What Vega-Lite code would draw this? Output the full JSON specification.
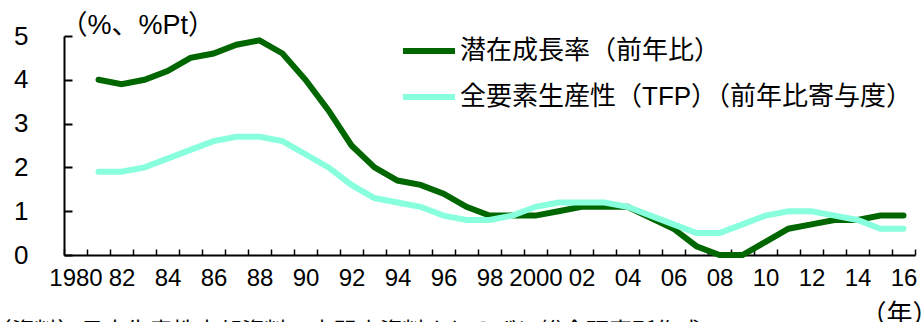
{
  "$schema": "https://vega.github.io/schema/vega-lite/v6.json",
  "width": 851,
  "height": 219,
  "autosize": {"type": "none"},
  "padding": {"left": 64, "top": 36, "right": 6, "bottom": 67},
  "background": "white",
  "config": {
    "view": {"stroke": null},
    "font": "Liberation Sans, Noto Sans CJK JP"
  },
  "title": {
    "text": "（資料）日本生産性本部資料、内閣府資料よりみずほ総合研究所作成",
    "orient": "bottom",
    "anchor": "start",
    "font": "Liberation Sans, Noto Sans CJK JP",
    "fontSize": 23,
    "fontWeight": "normal",
    "color": "black",
    "dx": -25,
    "dy": -10,
    "offset": 4
  },
  "data": {
    "values": [
      {"year": 1981, "series": "潜在成長率（前年比）", "value": 4.0},
      {"year": 1982, "series": "潜在成長率（前年比）", "value": 3.9},
      {"year": 1983, "series": "潜在成長率（前年比）", "value": 4.0},
      {"year": 1984, "series": "潜在成長率（前年比）", "value": 4.2},
      {"year": 1985, "series": "潜在成長率（前年比）", "value": 4.5},
      {"year": 1986, "series": "潜在成長率（前年比）", "value": 4.6},
      {"year": 1987, "series": "潜在成長率（前年比）", "value": 4.8},
      {"year": 1988, "series": "潜在成長率（前年比）", "value": 4.9},
      {"year": 1989, "series": "潜在成長率（前年比）", "value": 4.6},
      {"year": 1990, "series": "潜在成長率（前年比）", "value": 4.0},
      {"year": 1991, "series": "潜在成長率（前年比）", "value": 3.3},
      {"year": 1992, "series": "潜在成長率（前年比）", "value": 2.5},
      {"year": 1993, "series": "潜在成長率（前年比）", "value": 2.0},
      {"year": 1994, "series": "潜在成長率（前年比）", "value": 1.7},
      {"year": 1995, "series": "潜在成長率（前年比）", "value": 1.6},
      {"year": 1996, "series": "潜在成長率（前年比）", "value": 1.4},
      {"year": 1997, "series": "潜在成長率（前年比）", "value": 1.1},
      {"year": 1998, "series": "潜在成長率（前年比）", "value": 0.9},
      {"year": 1999, "series": "潜在成長率（前年比）", "value": 0.9},
      {"year": 2000, "series": "潜在成長率（前年比）", "value": 0.9},
      {"year": 2001, "series": "潜在成長率（前年比）", "value": 1.0},
      {"year": 2002, "series": "潜在成長率（前年比）", "value": 1.1},
      {"year": 2003, "series": "潜在成長率（前年比）", "value": 1.1},
      {"year": 2004, "series": "潜在成長率（前年比）", "value": 1.1},
      {"year": 2005, "series": "潜在成長率（前年比）", "value": 0.85},
      {"year": 2006, "series": "潜在成長率（前年比）", "value": 0.6},
      {"year": 2007, "series": "潜在成長率（前年比）", "value": 0.2},
      {"year": 2008, "series": "潜在成長率（前年比）", "value": 0.0},
      {"year": 2009, "series": "潜在成長率（前年比）", "value": 0.0},
      {"year": 2010, "series": "潜在成長率（前年比）", "value": 0.3},
      {"year": 2011, "series": "潜在成長率（前年比）", "value": 0.6},
      {"year": 2012, "series": "潜在成長率（前年比）", "value": 0.7},
      {"year": 2013, "series": "潜在成長率（前年比）", "value": 0.8},
      {"year": 2014, "series": "潜在成長率（前年比）", "value": 0.8},
      {"year": 2015, "series": "潜在成長率（前年比）", "value": 0.9},
      {"year": 2016, "series": "潜在成長率（前年比）", "value": 0.9},
      {"year": 1981, "series": "全要素生産性（TFP）（前年比寄与度）", "value": 1.9},
      {"year": 1982, "series": "全要素生産性（TFP）（前年比寄与度）", "value": 1.9},
      {"year": 1983, "series": "全要素生産性（TFP）（前年比寄与度）", "value": 2.0},
      {"year": 1984, "series": "全要素生産性（TFP）（前年比寄与度）", "value": 2.2},
      {"year": 1985, "series": "全要素生産性（TFP）（前年比寄与度）", "value": 2.4},
      {"year": 1986, "series": "全要素生産性（TFP）（前年比寄与度）", "value": 2.6},
      {"year": 1987, "series": "全要素生産性（TFP）（前年比寄与度）", "value": 2.7},
      {"year": 1988, "series": "全要素生産性（TFP）（前年比寄与度）", "value": 2.7},
      {"year": 1989, "series": "全要素生産性（TFP）（前年比寄与度）", "value": 2.6},
      {"year": 1990, "series": "全要素生産性（TFP）（前年比寄与度）", "value": 2.3},
      {"year": 1991, "series": "全要素生産性（TFP）（前年比寄与度）", "value": 2.0},
      {"year": 1992, "series": "全要素生産性（TFP）（前年比寄与度）", "value": 1.6},
      {"year": 1993, "series": "全要素生産性（TFP）（前年比寄与度）", "value": 1.3},
      {"year": 1994, "series": "全要素生産性（TFP）（前年比寄与度）", "value": 1.2},
      {"year": 1995, "series": "全要素生産性（TFP）（前年比寄与度）", "value": 1.1},
      {"year": 1996, "series": "全要素生産性（TFP）（前年比寄与度）", "value": 0.9},
      {"year": 1997, "series": "全要素生産性（TFP）（前年比寄与度）", "value": 0.8},
      {"year": 1998, "series": "全要素生産性（TFP）（前年比寄与度）", "value": 0.8},
      {"year": 1999, "series": "全要素生産性（TFP）（前年比寄与度）", "value": 0.9},
      {"year": 2000, "series": "全要素生産性（TFP）（前年比寄与度）", "value": 1.1},
      {"year": 2001, "series": "全要素生産性（TFP）（前年比寄与度）", "value": 1.2},
      {"year": 2002, "series": "全要素生産性（TFP）（前年比寄与度）", "value": 1.2},
      {"year": 2003, "series": "全要素生産性（TFP）（前年比寄与度）", "value": 1.2},
      {"year": 2004, "series": "全要素生産性（TFP）（前年比寄与度）", "value": 1.1},
      {"year": 2005, "series": "全要素生産性（TFP）（前年比寄与度）", "value": 0.9},
      {"year": 2006, "series": "全要素生産性（TFP）（前年比寄与度）", "value": 0.7},
      {"year": 2007, "series": "全要素生産性（TFP）（前年比寄与度）", "value": 0.5},
      {"year": 2008, "series": "全要素生産性（TFP）（前年比寄与度）", "value": 0.5},
      {"year": 2009, "series": "全要素生産性（TFP）（前年比寄与度）", "value": 0.7},
      {"year": 2010, "series": "全要素生産性（TFP）（前年比寄与度）", "value": 0.9},
      {"year": 2011, "series": "全要素生産性（TFP）（前年比寄与度）", "value": 1.0},
      {"year": 2012, "series": "全要素生産性（TFP）（前年比寄与度）", "value": 1.0},
      {"year": 2013, "series": "全要素生産性（TFP）（前年比寄与度）", "value": 0.9},
      {"year": 2014, "series": "全要素生産性（TFP）（前年比寄与度）", "value": 0.8},
      {"year": 2015, "series": "全要素生産性（TFP）（前年比寄与度）", "value": 0.6},
      {"year": 2016, "series": "全要素生産性（TFP）（前年比寄与度）", "value": 0.6}
    ]
  },
  "mark": {"type": "line", "strokeWidth": 6, "strokeJoin": "miter", "strokeCap": "round"},
  "encoding": {
    "x": {
      "field": "year",
      "type": "ordinal",
      "sort": null,
      "scale": {
        "type": "band",
        "paddingInner": 0,
        "paddingOuter": 0,
        "domain": [1980, 1981, 1982, 1983, 1984, 1985, 1986, 1987, 1988, 1989, 1990, 1991, 1992, 1993, 1994, 1995, 1996, 1997, 1998, 1999, 2000, 2001, 2002, 2003, 2004, 2005, 2006, 2007, 2008, 2009, 2010, 2011, 2012, 2013, 2014, 2015, 2016]
      },
      "axis": {
        "title": "（年）",
        "titleFont": "Liberation Sans, Noto Sans CJK JP",
        "titleFontSize": 26,
        "titleFontWeight": "normal",
        "titleColor": "black",
        "titleAlign": "right",
        "titleBaseline": "top",
        "titleX": 874,
        "titleY": 46,
        "tickBand": "extent",
        "tickSize": -6,
        "tickWidth": 1.5,
        "tickColor": "black",
        "domainColor": "black",
        "domainWidth": 2,
        "labelAngle": 0,
        "labelOverlap": false,
        "labelFontSize": 24,
        "labelColor": "black",
        "labelBaseline": "top",
        "labelPadding": 17,
        "labelExpr": "datum.value % 2 != 0 ? '' : ((datum.value == 1980 || datum.value == 2000) ? datum.label : slice(datum.label, 2))",
        "grid": false
      }
    },
    "y": {
      "field": "value",
      "type": "quantitative",
      "scale": {"domain": [0, 5], "nice": false},
      "axis": {
        "values": [0, 1, 2, 3, 4, 5],
        "title": "（%、%Pt）",
        "titleFont": "Liberation Sans, Noto Sans CJK JP",
        "titleFontSize": 27,
        "titleFontWeight": "normal",
        "titleColor": "black",
        "titleAngle": 0,
        "titleAlign": "left",
        "titleBaseline": "alphabetic",
        "titleX": -4,
        "titleY": -3,
        "tickSize": -8,
        "tickWidth": 2,
        "tickColor": "black",
        "domainColor": "black",
        "domainWidth": 2,
        "labelFontSize": 26,
        "labelColor": "black",
        "labelAlign": "right",
        "labelPadding": 44,
        "grid": false
      }
    },
    "color": {
      "field": "series",
      "type": "nominal",
      "scale": {
        "domain": ["潜在成長率（前年比）", "全要素生産性（TFP）（前年比寄与度）"],
        "range": ["#006600", "#88FFDD"]
      },
      "legend": {
        "title": null,
        "orient": "none",
        "legendX": 336,
        "legendY": -14,
        "symbolType": "stroke",
        "symbolSize": 2704,
        "symbolStrokeWidth": 6,
        "labelFont": "Liberation Sans, Noto Sans CJK JP",
        "labelFontSize": 26,
        "labelColor": "black",
        "labelOffset": 2,
        "labelLimit": 600,
        "rowPadding": 4
      }
    }
  }
}
